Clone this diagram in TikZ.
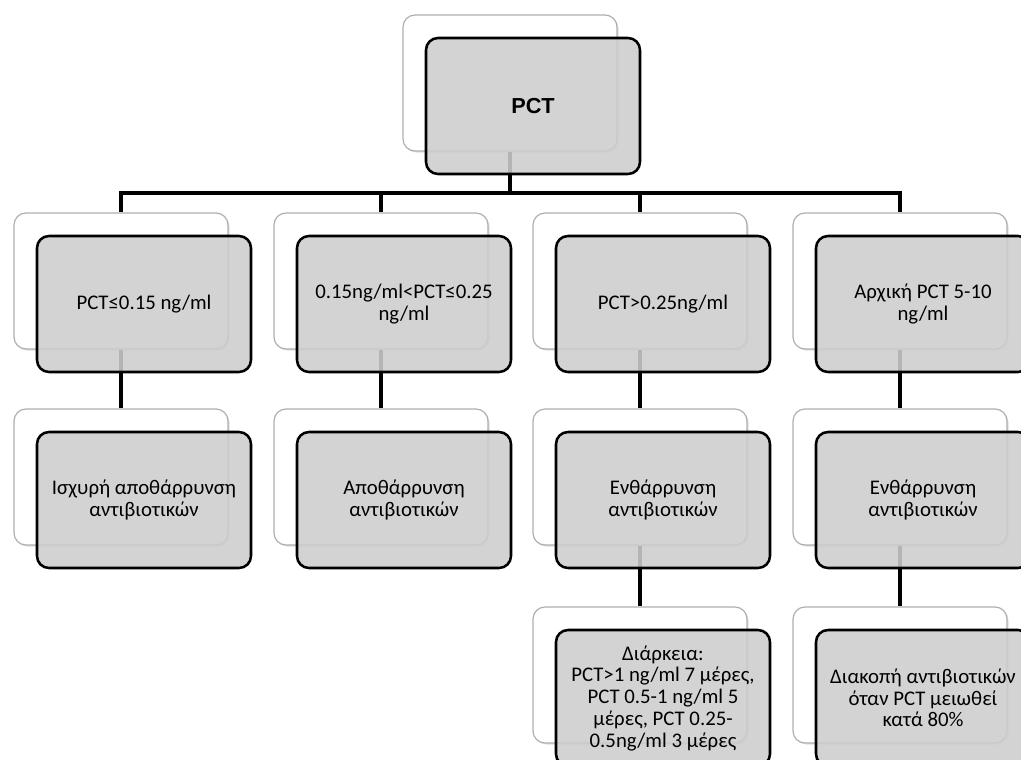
\documentclass[tikz,border=0pt]{standalone}
\usepackage{fontspec}
\setmainfont{Carlito}
\newfontfamily\pctfont{Liberation Sans}
\usetikzlibrary{shadows}
\definecolor{frontfill}{RGB}{205,205,205}
\definecolor{backline}{RGB}{175,175,175}
\tikzset{
  backbox/.style={draw=backline, line width=0.9pt, fill=white, rounded corners=9pt,
    minimum width=160.5pt, minimum height=102pt, inner sep=0pt,
    drop shadow={shadow xshift=1.2pt, shadow yshift=-1.2pt, opacity=0.25}},
  frontbox/.style={draw=black, line width=1.9pt, fill=frontfill, fill opacity=0.88, text opacity=1,
    rounded corners=9pt, minimum width=160.5pt, minimum height=102pt, inner sep=0pt,
    align=center, font=\fontsize{15.6}{16.3}\selectfont},
  conn/.style={draw=black, line width=3.6pt}
}
\newcommand{\backat}[3]{\node[backbox] (#1b) at (#2+107,#3+68) {};}
\newcommand{\frontat}[4]{\node[frontbox] (#1) at (#2+130,#3+91) {#4};}
\begin{document}
\begin{tikzpicture}[x=0.75pt,y=-0.75pt]
\useasboundingbox (0,0) rectangle (1021,760);
% back boxes
\backat{top}{403}{15}
\backat{a}{14}{213}
\backat{b}{274}{213}
\backat{c}{533}{213}
\backat{d}{793}{213}
\backat{a2}{14}{409}
\backat{b2}{274}{409}
\backat{c2}{533}{409}
\backat{d2}{793}{409}
\backat{c3}{533}{607}
\backat{d3}{793}{607}
% connectors
\coordinate (bar) at (510,193);
\draw[conn] (topb.south) -- (bar);
\draw[conn] (bar) -| (ab.north);
\draw[conn] (bar) -| (bb.north);
\draw[conn] (bar) -| (cb.north);
\draw[conn] (bar) -| (db.north);
\draw[conn] (ab.south) -- (a2b.north);
\draw[conn] (bb.south) -- (b2b.north);
\draw[conn] (cb.south) -- (c2b.north);
\draw[conn] (db.south) -- (d2b.north);
\draw[conn] (c2b.south) -- (c3b.north);
\draw[conn] (d2b.south) -- (d3b.north);
% front boxes
\frontat{top}{403}{15}{\pctfont\bfseries\fontsize{16.3}{18}\selectfont PCT}
\frontat{a}{14}{213}{PCT≤0.15 ng/ml}
\frontat{b}{274}{213}{0.15ng/ml<PCT≤0.25\\ng/ml}
\frontat{c}{533}{213}{PCT>0.25ng/ml}
\frontat{d}{793}{213}{Αρχική PCT 5-10\\ng/ml}
\frontat{a2}{14}{409}{Ισχυρή αποθάρρυνση\\αντιβιοτικών}
\frontat{b2}{274}{409}{Αποθάρρυνση\\αντιβιοτικών}
\frontat{c2}{533}{409}{Ενθάρρυνση\\αντιβιοτικών}
\frontat{d2}{793}{409}{Ενθάρρυνση\\αντιβιοτικών}
\frontat{c3}{533}{607}{\fontsize{15.6}{18.1}\selectfont Διάρκεια:\\PCT>1 ng/ml 7 μέρες,\\PCT 0.5-1 ng/ml 5\\μέρες, PCT 0.25-\\0.5ng/ml 3 μέρες}
\frontat{d3}{793}{607}{\fontsize{15.6}{18}\selectfont Διακοπή αντιβιοτικών\\όταν PCT μειωθεί\\κατά 80\%}
\end{tikzpicture}
\end{document}
